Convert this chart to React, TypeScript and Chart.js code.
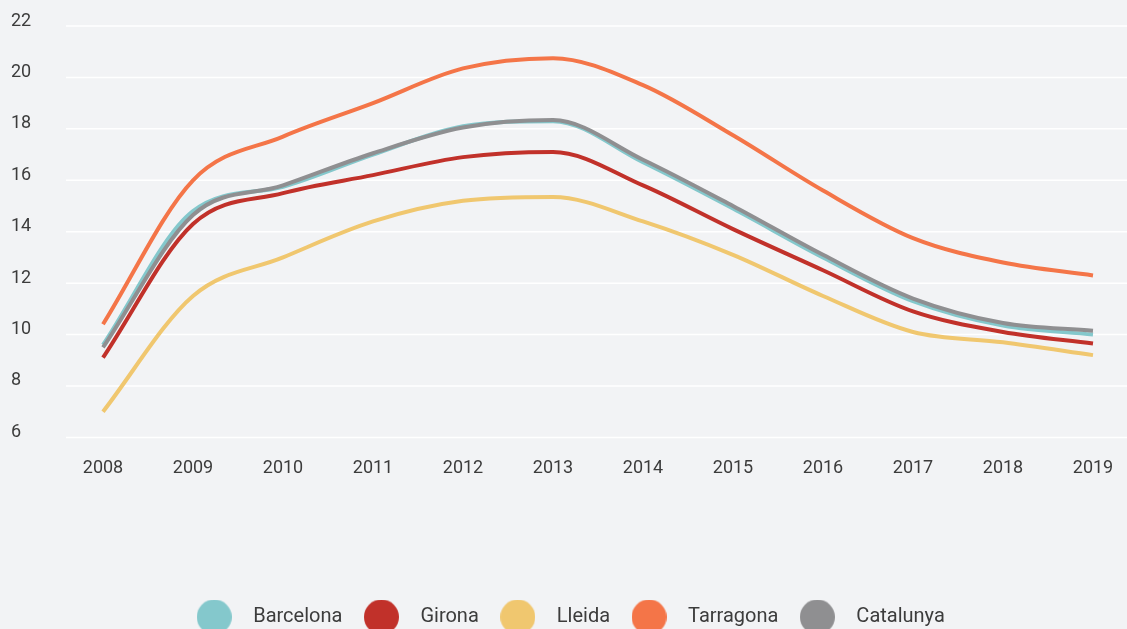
import React, { useEffect, useRef } from "react";
import { Chart, registerables } from "chart.js";

Chart.register(...registerables);

const years = ["2008", "2009", "2010", "2011", "2012", "2013", "2014", "2015", "2016", "2017", "2018", "2019"];
const barcelona = [9.6, 14.8, 15.75, 17.0, 18.1, 18.3, 16.7, 14.9, 13.0, 11.3, 10.35, 10.0];
const girona = [9.1, 14.3, 15.5, 16.2, 16.9, 17.1, 15.8, 14.1, 12.5, 10.9, 10.1, 9.65];
const lleida = [7.0, 11.5, 13.0, 14.4, 15.2, 15.35, 14.4, 13.1, 11.5, 10.1, 9.7, 9.2];
const tarragona = [10.4, 16.0, 17.7, 19.0, 20.35, 20.75, 19.7, 17.75, 15.6, 13.75, 12.8, 12.3];
const catalunya = [9.5, 14.65, 15.8, 17.05, 18.05, 18.34, 16.8, 15.0, 13.1, 11.4, 10.45, 10.15];
const yTicks = [6, 8, 10, 12, 14, 16, 18, 20, 22];

const seriesNames = ["Barcelona", "Girona", "Lleida", "Tarragona", "Catalunya"];
const seriesData = [barcelona, girona, lleida, tarragona, catalunya];
const seriesColors = ["#84c8cc", "#c1312a", "#f0c76f", "#f47548", "#8f8f91"];
const textColor = "#3c3c3c";

function circleImage(color: string, d: number) {
  const c = document.createElement("canvas");
  c.width = d;
  c.height = d;
  const ctx = c.getContext("2d")!;
  ctx.fillStyle = color;
  ctx.beginPath();
  ctx.arc(d / 2, d / 2, d / 2, 0, Math.PI * 2);
  ctx.fill();
  return c;
}

const gridPlugin = {
  id: "fullGrid",
  afterLayout(chart: any) {
    if (chart.legend) {
      chart.legend.left += 13;
      chart.legend.right += 13;
    }
  },
  beforeDatasetsDraw(chart: any) {
    const ctx = chart.ctx;
    const y = chart.scales.y;
    ctx.save();
    ctx.strokeStyle = "#ffffff";
    ctx.lineWidth = 1.5;
    yTicks.forEach((v) => {
      const py = y.getPixelForValue(v);
      ctx.beginPath();
      ctx.moveTo(66, py);
      ctx.lineTo(chart.width, py);
      ctx.stroke();
    });
    ctx.restore();
  },
};

export default function App() {
  const ref = useRef<HTMLCanvasElement>(null);
  useEffect(() => {
    Chart.defaults.font.family = "Roboto";
    const chart = new Chart(ref.current!, {
      type: "line",
      data: {
        labels: years,
        datasets: seriesNames.map((name, i) => ({
          label: name,
          data: seriesData[i],
          borderColor: seriesColors[i],
          backgroundColor: seriesColors[i],
          borderWidth: 4,
          pointRadius: 0,
          pointHoverRadius: 0,
          pointStyle: circleImage(seriesColors[i], 35) as any,
          cubicInterpolationMode: "monotone" as const,
          fill: false,
          order: name === "Catalunya" ? 0 : 1,
        })),
      },
      plugins: [gridPlugin],
      options: {
        animation: false,
        responsive: true,
        maintainAspectRatio: false,
        layout: { padding: { left: 11, right: 34, top: 26, bottom: 0 } },
        plugins: {
          tooltip: { enabled: false },
          legend: {
            position: "bottom",
            labels: {
              usePointStyle: true,
              pointStyleWidth: 58,
              padding: 10,
              color: textColor,
              font: { size: 20, family: "Roboto" },
              sort: (a: any, b: any) => a.datasetIndex - b.datasetIndex,
            },
          },
        },
        scales: {
          x: {
            offset: false,
            grid: { display: false, drawTicks: false },
            border: { display: false },
            afterFit: (s: any) => {
              s.height += 98;
              s.paddingLeft = 0;
              s.paddingRight = 0;
            },
            ticks: { color: textColor, font: { size: 18 }, padding: 20, maxRotation: 0 },
          },
          y: {
            min: 6,
            max: 22,
            grid: { display: false, drawTicks: false },
            border: { display: false },
            afterFit: (s: any) => {
              s.width = 92;
            },
            ticks: {
              stepSize: 2,
              color: textColor,
              font: { size: 18 },
              crossAlign: "far",
              labelOffset: -5,
              padding: 0,
            },
          },
        },
      },
    });
    return () => chart.destroy();
  }, []);
  return (
    <div style={{ position: "fixed", left: 0, top: 0, width: 1127, height: 637, background: "#f2f3f5", overflow: "hidden" }}>
      <canvas ref={ref} />
    </div>
  );
}
